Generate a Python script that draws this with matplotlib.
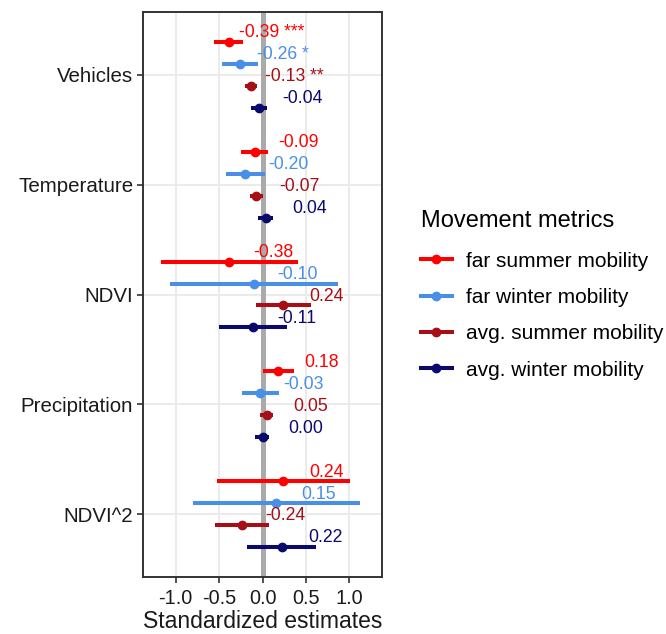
import matplotlib
matplotlib.use("Agg")
import matplotlib.pyplot as plt
from matplotlib.lines import Line2D

plt.rcParams['font.family'] = ['Liberation Sans', 'DejaVu Sans']

# predictors, top to bottom
variables = ["Vehicles", "Temperature", "NDVI", "Precipitation", "NDVI^2"]

series_names = ["far summer mobility", "far winter mobility",
                "avg. summer mobility", "avg. winter mobility"]
series_colors = ["#FF0000", "#4A8FE7", "#A50F15", "#0A0A6E"]

far_summer_est = [-0.39, -0.09, -0.38, 0.18, 0.24]
far_summer_lo = [-0.56, -0.25, -1.17, 0.00, -0.52]
far_summer_hi = [-0.23, 0.06, 0.41, 0.36, 1.01]
far_summer_sig = ["***", "", "", "", ""]

far_winter_est = [-0.26, -0.20, -0.10, -0.03, 0.15]
far_winter_lo = [-0.47, -0.42, -1.06, -0.24, -0.80]
far_winter_hi = [-0.05, 0.03, 0.87, 0.19, 1.12]
far_winter_sig = ["*", "", "", "", ""]

avg_summer_est = [-0.13, -0.07, 0.24, 0.05, -0.24]
avg_summer_lo = [-0.20, -0.14, -0.08, -0.03, -0.55]
avg_summer_hi = [-0.06, 0.00, 0.56, 0.12, 0.07]
avg_summer_sig = ["**", "", "", "", ""]

avg_winter_est = [-0.04, 0.04, -0.11, 0.00, 0.22]
avg_winter_lo = [-0.13, -0.05, -0.50, -0.09, -0.18]
avg_winter_hi = [0.05, 0.12, 0.28, 0.08, 0.61]
avg_winter_sig = ["", "", "", "", ""]

x_ticks = [-1.0, -0.5, 0.0, 0.5, 1.0]

series = [
    (far_summer_est, far_summer_lo, far_summer_hi, far_summer_sig),
    (far_winter_est, far_winter_lo, far_winter_hi, far_winter_sig),
    (avg_summer_est, avg_summer_lo, avg_summer_hi, avg_summer_sig),
    (avg_winter_est, avg_winter_lo, avg_winter_hi, avg_winter_sig),
]
dodge = [0.3, 0.1, -0.1, -0.3]

fig = plt.figure(figsize=(6.66, 6.34), dpi=100)
ax = fig.add_axes([143 / 666, 1 - 577 / 634, 239 / 666, 565 / 634])

n = len(variables)
ypos = [n - i for i in range(n)]

ax.axvline(0, color="#AAAAAA", lw=3.6, zorder=1)

for (est, lo, hi, sig), off, col in zip(series, dodge, series_colors):
    for k in range(n):
        y = ypos[k] + off
        ax.plot([lo[k], hi[k]], [y, y], color=col, lw=2.9,
                solid_capstyle="butt", zorder=3)
        ax.plot(est[k], y, "o", color=col, ms=6, zorder=4)
        lab = f"{est[k]:.2f}" + (" " + sig[k] if sig[k] else "")
        ax.text(est[k] + 0.5, y + 0.085, lab, color=col, fontsize=12.7,
                ha="center", va="center", zorder=5)

ax.set_xlim(-1.375, 1.375)
ax.set_ylim(0.43, 5.57)
ax.set_xticks(x_ticks)
ax.set_xticklabels([f"{t:.1f}" for t in x_ticks])
ax.set_yticks(ypos)
ax.set_yticklabels(variables)
ax.grid(True, color="#EBEBEB", lw=1.4, zorder=0)
ax.set_axisbelow(True)
ax.tick_params(axis="both", length=4, width=1.2, color="#333333",
               labelcolor="#1A1A1A")
ax.tick_params(axis="y", labelsize=14.8, pad=3)
ax.tick_params(axis="x", labelsize=14.3, pad=5)
for s in ax.spines.values():
    s.set_color("#333333")
    s.set_linewidth(1.4)
ax.set_xlabel("Standardized estimates", fontsize=16.5, color="#1A1A1A", labelpad=1)

handles = [Line2D([0], [0], color=c, lw=2.9, marker="o", ms=6)
           for c in series_colors]
leg = fig.legend(handles, series_names, loc="upper left",
                 bbox_to_anchor=(413 / 666, 1 - 202 / 634),
                 frameon=False, fontsize=15, title="Movement metrics",
                 title_fontsize=17, handlelength=1.45, handletextpad=0.7,
                 labelspacing=0.83, alignment="left", borderaxespad=0)
leg._legend_box.sep = 14

fig.savefig("out.png", dpi=100)
